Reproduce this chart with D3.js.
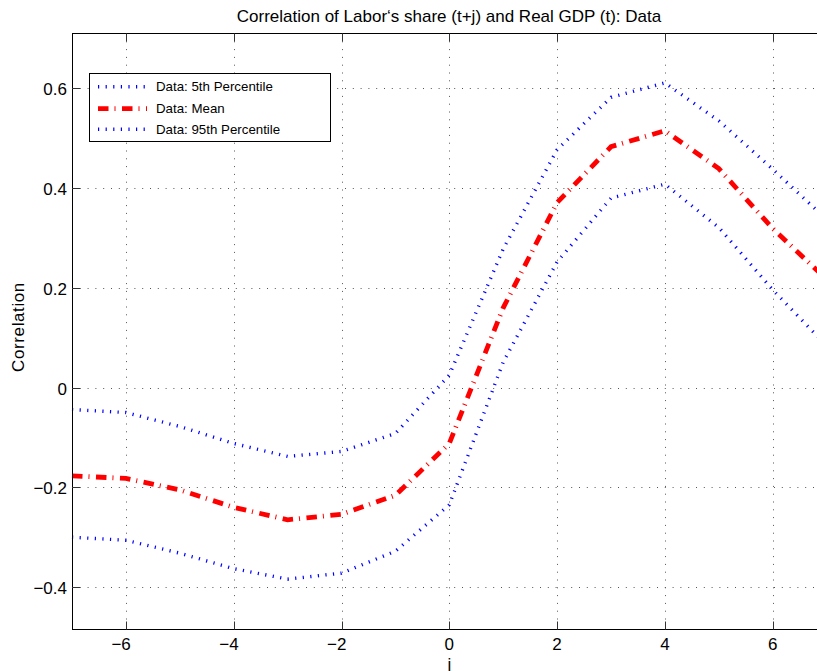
<!DOCTYPE html>
<html>
<head>
<meta charset="utf-8">
<script src="https://d3js.org/d3.v7.min.js"></script>
<style>
    body { margin: 0; background: #fff; }
    svg text { font-family: "Liberation Sans", Arial, sans-serif; fill: #000; }
</style>
</head>
<body>
<div id="chart"></div>
<script>
// lags j and the three series
const lags = [-7, -6, -5, -4, -3, -2, -1, 0, 1, 2, 3, 4, 5, 6, 7];
const pct5 = [-0.300, -0.306, -0.332, -0.363, -0.384, -0.372, -0.328, -0.235, 0.051, 0.252, 0.380, 0.408, 0.321, 0.196, 0.084];
const meanVals = [-0.177, -0.182, -0.205, -0.240, -0.265, -0.254, -0.216, -0.112, 0.160, 0.371, 0.483, 0.515, 0.439, 0.319, 0.217];
const pct95 = [-0.044, -0.050, -0.078, -0.112, -0.138, -0.128, -0.092, 0.025, 0.278, 0.477, 0.582, 0.611, 0.535, 0.438, 0.337];
const xTicks = [-6, -4, -2, 0, 2, 4, 6];
const yTicks = [-0.4, -0.2, 0, 0.2, 0.4, 0.6];
const legendLabels = ["Data: 5th Percentile", "Data: Mean", "Data: 95th Percentile"];

const width = 817, height = 671;
const plotLeft = 72, plotRight = 826.6, plotTop = 33.5, plotBottom = 629.5;

const svg = d3.select("#chart")
    .append("svg")
    .attr("width", width)
    .attr("height", height);

// scales
const x = d3.scaleLinear()
    .domain([-7, 7])
    .range([plotLeft, plotRight]);

const y = d3.scaleLinear()
    .domain([-0.485, 0.71])
    .range([plotBottom, plotTop]);

// dotted grid
svg.append("g")
    .selectAll("line")
    .data(xTicks)
    .enter()
    .append("line")
    .attr("x1", d => Math.round(x(d)) + 0.5)
    .attr("x2", d => Math.round(x(d)) + 0.5)
    .attr("y1", plotTop)
    .attr("y2", plotBottom)
    .attr("stroke", "#555")
    .attr("stroke-dasharray", "1,6.8");

svg.append("g")
    .selectAll("line")
    .data(yTicks)
    .enter()
    .append("line")
    .attr("x1", plotLeft)
    .attr("x2", plotRight)
    .attr("y1", d => Math.round(y(d)) + 0.5)
    .attr("y2", d => Math.round(y(d)) + 0.5)
    .attr("stroke", "#555")
    .attr("stroke-dasharray", "1,6.8");

// the three lines
const line = d3.line()
    .x((d, i) => x(lags[i]))
    .y(d => y(d));

const series = [
    {vals: pct5, color: "#0000ff", w: 3.4, dash: "1.2,6.4"},
    {vals: meanVals, color: "#ff0000", w: 4.8, dash: "10.5,6,1,6.5"},
    {vals: pct95, color: "#0000ff", w: 3.4, dash: "1.2,6.4"}
];

series.forEach(s => {
    svg.append("path")
        .datum(s.vals)
        .attr("d", line)
        .attr("fill", "none")
        .attr("stroke", s.color)
        .attr("stroke-width", s.w)
        .attr("stroke-dasharray", s.dash);
});

// axes box (right side runs off the page)
const axisG = svg.append("g");
axisG.append("line")
    .attr("x1", plotLeft + 0.5).attr("x2", plotLeft + 0.5)
    .attr("y1", plotTop).attr("y2", plotBottom)
    .attr("stroke", "#000");
axisG.append("line")
    .attr("x1", plotLeft).attr("x2", width)
    .attr("y1", plotTop).attr("y2", plotTop)
    .attr("stroke", "#000");
axisG.append("line")
    .attr("x1", plotLeft).attr("x2", width)
    .attr("y1", plotBottom).attr("y2", plotBottom)
    .attr("stroke", "#000");

// ticks inside the box
xTicks.forEach(t => {
    const px = Math.round(x(t)) + 0.5;
    axisG.append("line")
        .attr("x1", px).attr("x2", px)
        .attr("y1", plotBottom).attr("y2", plotBottom - 8)
        .attr("stroke", "#333");
    axisG.append("line")
        .attr("x1", px).attr("x2", px)
        .attr("y1", plotTop).attr("y2", plotTop + 8)
        .attr("stroke", "#333");
    axisG.append("text")
        .attr("x", x(t))
        .attr("dx", t < 0 ? -4.8 : 0)
        .attr("y", 650)
        .attr("text-anchor", "middle")
        .style("font-size", "17px")
        .text(t < 0 ? "\u2212" + Math.abs(t) : t);
});

yTicks.forEach(t => {
    const py = Math.round(y(t)) + 0.5;
    axisG.append("line")
        .attr("x1", plotLeft).attr("x2", plotLeft + 8)
        .attr("y1", py).attr("y2", py)
        .attr("stroke", "#333");
    axisG.append("text")
        .attr("x", 67)
        .attr("y", y(t) + 7)
        .attr("text-anchor", "end")
        .style("font-size", "17px")
        .text(t < 0 ? "\u2212" + d3.format("")(Math.abs(t)) : d3.format("")(t));
});

// title and axis labels
svg.append("text")
    .attr("x", 449)
    .attr("y", 21.5)
    .attr("text-anchor", "middle")
    .style("font-size", "17px")
    .text("Correlation of Labor\u2018s share (t+j) and Real GDP (t): Data");

svg.append("text")
    .attr("transform", "translate(23.5,327)rotate(-90)")
    .attr("text-anchor", "middle")
    .style("font-size", "17px")
    .style("letter-spacing", "0.6px")
    .text("Correlation");

svg.append("text")
    .attr("x", x(0))
    .attr("y", 670)
    .attr("text-anchor", "middle")
    .style("font-size", "17px")
    .text("j");

// legend
const legend = svg.append("g");
legend.append("rect")
    .attr("x", 89.5).attr("y", 73.5)
    .attr("width", 241).attr("height", 68)
    .attr("fill", "#fff")
    .attr("stroke", "#000");

const rowY = [86.7, 108.7, 129.3];
series.forEach((s, i) => {
    legend.append("line")
        .attr("x1", 98).attr("x2", 147)
        .attr("y1", rowY[i]).attr("y2", rowY[i])
        .attr("stroke", s.color)
        .attr("stroke-width", s.w)
        .attr("stroke-dasharray", s.dash);
    legend.append("text")
        .attr("x", 156)
        .attr("y", rowY[i] + 4.6)
        .style("font-size", "13.3px")
        .text(legendLabels[i]);
});
</script>
</body>
</html>
